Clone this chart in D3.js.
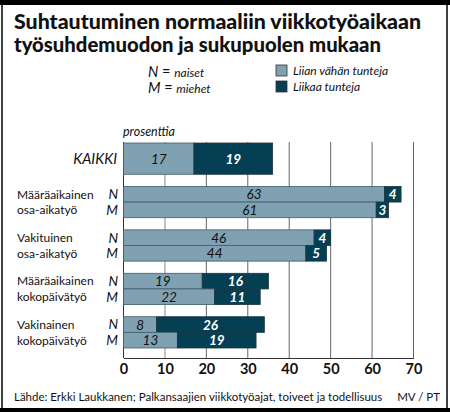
<!DOCTYPE html>
<html>
<head>
<meta charset="utf-8">
<script src="https://cdn.jsdelivr.net/npm/d3@7"></script>
<style>
  body { margin: 0; background: #fff; }
  svg { display: block; font-family: Lato, "DejaVu Sans", sans-serif; }
</style>
</head>
<body>
<svg id="chart" width="450" height="412"></svg>
<script>
const categories = ["KAIKKI", "Määräaikainen osa-aikatyö", "Vakituinen osa-aikatyö",
                    "Määräaikainen kokopäivätyö", "Vakinainen kokopäivätyö"];
const groupLines = [["KAIKKI"], ["Määräaikainen", "osa-aikatyö"], ["Vakituinen", "osa-aikatyö"],
                    ["Määräaikainen", "kokopäivätyö"], ["Vakinainen", "kokopäivätyö"]];
const sexes = ["N", "M"];
// "Liian vähän tunteja"
const tooFewAll = 17;
const tooFewN = [63, 46, 19, 8];
const tooFewM = [61, 44, 22, 13];
// "Liikaa tunteja"
const tooManyAll = 19;
const tooManyN = [4, 4, 16, 26];
const tooManyM = [3, 5, 11, 19];
const xTicks = [0, 10, 20, 30, 40, 50, 60, 70];

const colLow = "#7fa1b1";
const colHigh = "#053f53";

const svg = d3.select("#chart");

// frame
svg.append("rect").attr("x", 0).attr("y", 0).attr("width", 450).attr("height", 5).attr("fill", "#000");
svg.append("rect").attr("x", 0).attr("y", 408).attr("width", 450).attr("height", 4).attr("fill", "#000");
svg.append("line").attr("x1", 2).attr("x2", 2).attr("y1", 5).attr("y2", 408).attr("stroke", "#000").attr("stroke-width", 1.5);
svg.append("line").attr("x1", 447).attr("x2", 447).attr("y1", 5).attr("y2", 408).attr("stroke", "#000").attr("stroke-width", 1.5);

// title
const titleLines = [["Suhtautuminen normaaliin viikkotyöaikaan", 407], ["työsuhdemuodon ja sukupuolen mukaan", 367]];
titleLines.forEach(([t, w], i) => {
  svg.append("text").attr("x", 14).attr("y", 29 + i * 22.5)
    .attr("font-weight", 900).attr("font-size", 21).attr("fill", "#111")
    .attr("textLength", w).attr("lengthAdjust", "spacingAndGlyphs").text(t);
});

// legend: sexes
const sexLegend = [["N", "naiset"], ["M", "miehet"]];
sexLegend.forEach(([k, v], i) => {
  const t = svg.append("text").attr("x", 148).attr("y", 77 + i * 16).attr("fill", "#111");
  t.append("tspan").attr("font-style", "italic").attr("font-size", 14.5).text(k);
  t.append("tspan").attr("font-size", 14.5).text(" = ");
  t.append("tspan").attr("font-style", "italic").attr("font-size", 12).text(v);
});

// legend: series
const seriesLegend = [["Liian vähän tunteja", colLow], ["Liikaa tunteja", colHigh]];
seriesLegend.forEach(([name, c], i) => {
  svg.append("rect").attr("x", 276).attr("y", 65 + i * 16).attr("width", 11).attr("height", 11)
    .attr("fill", c).attr("stroke", "#333").attr("stroke-width", 0.8);
  svg.append("text").attr("x", 293).attr("y", 75 + i * 16).attr("font-style", "italic")
    .attr("font-size", 12).attr("fill", "#111").text(name);
});

// scales
const x = d3.scaleLinear().domain([0, 70]).range([123.5, 413.5]);
const y = d3.scaleBand().domain(categories).range([143, 348]).paddingInner(0.28).paddingOuter(0);
const ySub = d3.scaleBand().domain(sexes).range([0, y.bandwidth()]).padding(0);
const axisY = 358;
const plotTop = 142;

svg.append("text").attr("x", 123).attr("y", 136).attr("font-style", "italic")
  .attr("font-size", 12.5).attr("fill", "#111").text("prosenttia");

// grid
svg.append("g").selectAll("line").data(xTicks.slice(1)).join("line")
  .attr("x1", d => x(d)).attr("x2", d => x(d))
  .attr("y1", plotTop).attr("y2", axisY)
  .attr("stroke", d => d === 10 ? "#b5b5b5" : "#555")
  .attr("stroke-width", d => d === 10 ? 1.6 : 0.9);

// axis
const xAxis = d3.axisBottom(x).tickValues(xTicks).tickSize(0).tickPadding(6);
const gx = svg.append("g").attr("transform", `translate(0,${axisY})`).call(xAxis);
gx.select(".domain").attr("stroke", "#333").attr("stroke-width", 1);
gx.selectAll("text").attr("font-size", 14.5).attr("font-family", "Lato, sans-serif")
  .attr("font-weight", 700).attr("fill", "#111");
svg.append("line").attr("x1", x(0)).attr("x2", x(0)).attr("y1", plotTop).attr("y2", axisY)
  .attr("stroke", "#333").attr("stroke-width", 1);

// rows
const rows = [{ cat: categories[0], sex: null, low: tooFewAll, high: tooManyAll }];
categories.slice(1).forEach((c, i) => {
  rows.push({ cat: c, sex: "N", low: tooFewN[i], high: tooManyN[i] });
  rows.push({ cat: c, sex: "M", low: tooFewM[i], high: tooManyM[i] });
});
const rowY = r => r.sex ? y(r.cat) + ySub(r.sex) : y(r.cat);
const rowH = r => r.sex ? ySub.bandwidth() : y.bandwidth();

const bars = svg.append("g").selectAll("g").data(rows).join("g");
bars.append("rect")
  .attr("x", x(0)).attr("y", rowY).attr("width", r => x(r.low) - x(0)).attr("height", rowH)
  .attr("fill", colLow).attr("stroke", "#3f5d69").attr("stroke-width", 0.8);
bars.append("rect")
  .attr("x", r => x(r.low)).attr("y", rowY).attr("width", r => x(r.low + r.high) - x(r.low)).attr("height", rowH)
  .attr("fill", colHigh).attr("stroke", "#1c3540").attr("stroke-width", 0.8);

bars.append("text")
  .attr("x", r => (x(0) + x(r.low)) / 2).attr("y", r => rowY(r) + rowH(r) / 2)
  .attr("dy", "0.37em").attr("text-anchor", "middle").attr("font-style", "italic")
  .attr("font-size", 13.5).attr("fill", "#111").text(r => r.low);
bars.append("text")
  .attr("x", r => (x(r.low) + x(r.low + r.high)) / 2).attr("y", r => rowY(r) + rowH(r) / 2)
  .attr("dy", "0.37em").attr("text-anchor", "middle").attr("font-style", "italic")
  .attr("font-weight", 700).attr("font-size", 13.5).attr("fill", "#fff").text(r => r.high);

// category labels
groupLines.forEach((lines, i) => {
  const c = categories[i];
  if (i === 0) {
    svg.append("text").attr("x", 117).attr("y", y(c) + y.bandwidth() / 2).attr("dy", "0.36em")
      .attr("text-anchor", "end").attr("font-style", "italic").attr("font-size", 14.5)
      .attr("fill", "#111").text(lines[0]);
    return;
  }
  sexes.forEach((s, j) => {
    const cy = y(c) + ySub(s) + ySub.bandwidth() / 2;
    svg.append("text").attr("x", 17).attr("y", cy).attr("dy", "0.36em")
      .attr("font-size", 12).attr("fill", "#111").text(lines[j]);
    svg.append("text").attr("x", 118).attr("y", cy).attr("dy", "0.36em").attr("text-anchor", "end")
      .attr("font-style", "italic").attr("font-size", 13.5).attr("fill", "#111").text(s);
  });
});

// footer
svg.append("text").attr("x", 14).attr("y", 401).attr("font-size", 11.5).attr("fill", "#111")
  .text("Lähde: Erkki Laukkanen; Palkansaajien viikkotyöajat, toiveet ja todellisuus");
svg.append("text").attr("x", 440).attr("y", 401).attr("text-anchor", "end").attr("font-size", 11.5)
  .attr("fill", "#111").text("MV / PT");
</script>
</body>
</html>
